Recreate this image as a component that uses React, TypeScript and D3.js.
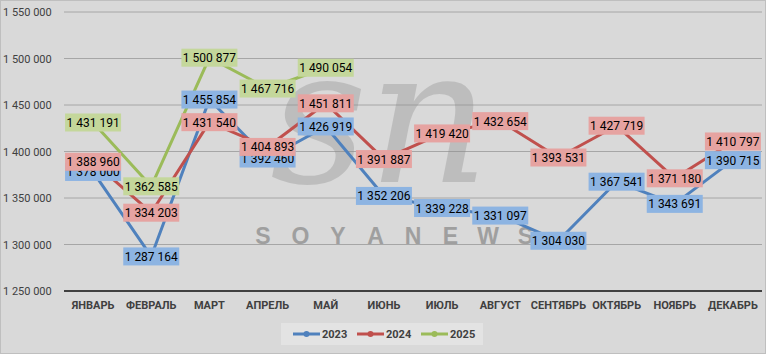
import React, { useEffect, useRef } from 'react';
import * as d3 from 'd3';

const months = ['ЯНВАРЬ', 'ФЕВРАЛЬ', 'МАРТ', 'АПРЕЛЬ', 'МАЙ', 'ИЮНЬ', 'ИЮЛЬ', 'АВГУСТ', 'СЕНТЯБРЬ', 'ОКТЯБРЬ', 'НОЯБРЬ', 'ДЕКАБРЬ'];
const values2023 = [1378000, 1287164, 1455854, 1392460, 1426919, 1352206, 1339228, 1331097, 1304030, 1367541, 1343691, 1390715];
const values2024 = [1388960, 1334203, 1431540, 1404893, 1451811, 1391887, 1419420, 1432654, 1393531, 1427719, 1371180, 1410797];
const values2025 = [1431191, 1362585, 1500877, 1467716, 1490054];
const yTicks = [1250000, 1300000, 1350000, 1400000, 1450000, 1500000, 1550000];

const series = [
  { name: '2023', values: values2023, color: '#4f81bd', fill: '#8db4e2' },
  { name: '2024', values: values2024, color: '#c0504d', fill: '#e6a3a1' },
  { name: '2025', values: values2025, color: '#9bbb59', fill: '#c4d79b' },
];

const W = 766;
const H = 354;
const fmt = (v: number) => d3.format(',')(v).replace(/,/g, ' ');

export default function App() {
  const svgRef = useRef<SVGSVGElement>(null);

  useEffect(() => {
    const svg = d3.select(svgRef.current);
    svg.selectAll('*').remove();

    // background
    svg.append('rect').attr('x', 0.5).attr('y', 0.5).attr('width', W - 1).attr('height', H - 1)
      .attr('fill', '#d9d9d9').attr('stroke', '#bfbfbf');

    const x = d3.scaleBand().domain(months).range([64, 762]);
    const y = d3.scaleLinear().domain([1250000, 1550000]).range([291, 12]);

    // gridlines
    svg.append('g').selectAll('line').data(yTicks.slice(1)).enter().append('line')
      .attr('x1', 64).attr('x2', 762)
      .attr('y1', d => y(d)).attr('y2', d => y(d))
      .attr('stroke', '#a6a6a6').attr('stroke-width', 1);

    // y labels
    svg.append('g').selectAll('text').data(yTicks).enter().append('text')
      .attr('x', 3).attr('y', d => y(d) + 4)
      .attr('font-size', 11).attr('fill', '#404040')
      .text(d => fmt(d));

    // watermark
    svg.append('text').attr('x', 270).attr('y', 182)
      .attr('font-family', 'DejaVu Serif').attr('font-style', 'italic')
      .attr('font-size', 190).attr('fill', '#8c8c8c').attr('opacity', 0.35)
      .text('sn');
    'SOYANEWS'.split('').forEach((c, i) => {
      svg.append('text').attr('x', 263 + i * 37.5).attr('y', 244)
        .attr('text-anchor', 'middle').attr('font-size', 23).attr('font-weight', 'bold')
        .attr('font-family', 'Liberation Sans').attr('fill', '#969696').attr('opacity', 0.85)
        .text(c);
    });

    // x axis
    svg.append('line').attr('x1', 64).attr('x2', 762).attr('y1', y(1250000)).attr('y2', y(1250000))
      .attr('stroke', '#404040').attr('stroke-width', 2);
    svg.append('g').selectAll('text').data(months).enter().append('text')
      .attr('x', d => (x(d) as number) + x.bandwidth() / 2).attr('y', 309)
      .attr('text-anchor', 'middle').attr('font-size', 11).attr('font-weight', 'bold')
      .attr('fill', '#404040').text(d => d);

    const cx = (i: number) => (x(months[i]) as number) + x.bandwidth() / 2;
    const line = d3.line<number>().x((d, i) => cx(i)).y(d => y(d));

    series.forEach(s => {
      svg.append('path').datum(s.values).attr('d', line)
        .attr('fill', 'none').attr('stroke', s.color).attr('stroke-width', 3).attr('stroke-linejoin', 'round');
      svg.append('g').selectAll('circle').data(s.values).enter().append('circle')
        .attr('cx', (d, i) => cx(i)).attr('cy', d => y(d)).attr('r', 6.5).attr('fill', s.color);
    });

    series.forEach(s => {
      const g = svg.append('g');
      s.values.forEach((v, i) => {
        const t = fmt(v);
        g.append('rect').attr('x', cx(i) - 28).attr('y', y(v) - 9).attr('width', 56).attr('height', 18)
          .attr('fill', s.fill);
        g.append('text').attr('x', cx(i)).attr('y', y(v) + 4.5).attr('text-anchor', 'middle')
          .attr('font-size', 12).attr('fill', '#000').text(t);
      });
    });

    // legend
    const leg = svg.append('g');
    leg.append('rect').attr('x', 281).attr('y', 323).attr('width', 202).attr('height', 22).attr('fill', '#e3e3e3');
    series.forEach((s, i) => {
      const lx = 293 + i * 64;
      leg.append('line').attr('x1', lx).attr('x2', lx + 27).attr('y1', 334).attr('y2', 334)
        .attr('stroke', s.color).attr('stroke-width', 3);
      leg.append('circle').attr('cx', lx + 13.5).attr('cy', 334).attr('r', 3).attr('fill', s.color);
      leg.append('text').attr('x', lx + 29).attr('y', 338).attr('font-size', 11).attr('font-weight', 'bold')
        .attr('fill', '#404040').text(s.name);
    });
  }, []);

  return (
    <div>
      <style>{'body{margin:0}'}</style>
      <svg ref={svgRef} width={W} height={H} style={{ display: 'block', fontFamily: 'Roboto, sans-serif' }} />
    </div>
  );
}
